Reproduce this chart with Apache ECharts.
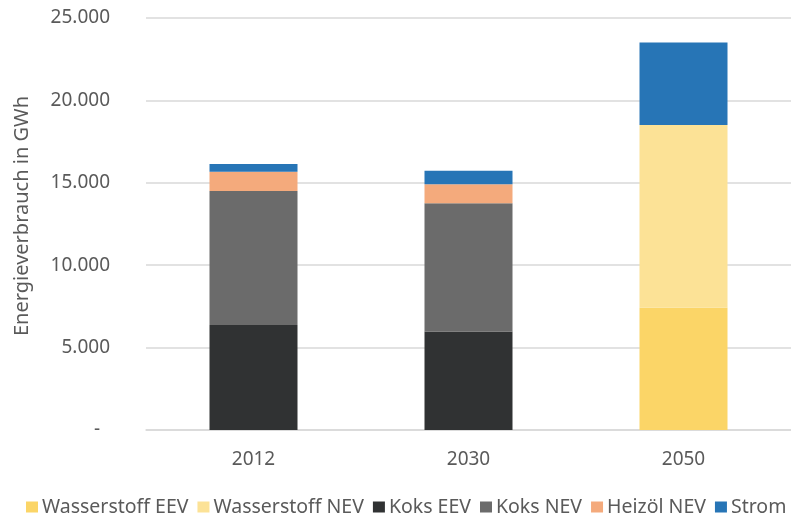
<!DOCTYPE html>
<html><head><meta charset="utf-8">
<script src="https://cdn.jsdelivr.net/npm/echarts@6/dist/echarts.min.js"></script>
<style>html,body{margin:0;padding:0;background:#fff}#c{width:791px;height:515px}</style>
</head><body><div id="c"></div>
<script>
const categories = ['2012', '2030', '2050'];
const seriesNames = ['Wasserstoff EEV', 'Wasserstoff NEV', 'Koks EEV', 'Koks NEV', 'Heizöl NEV', 'Strom'];
const wasserstoffEEV = [0, 0, 7420];
const wasserstoffNEV = [0, 0, 11090];
const koksEEV = [6370, 5970, 0];
const koksNEV = [8130, 7790, 0];
const heizoelNEV = [1170, 1150, 0];
const strom = [470, 825, 5000];
const yTicks = [0, 5000, 10000, 15000, 20000, 25000];
const colors = ['#FBD567', '#FCE296', '#303233', '#6B6B6B', '#F4AA7C', '#2775B6'];

const allData = [wasserstoffEEV, wasserstoffNEV, koksEEV, koksNEV, heizoelNEV, strom];
const font = 'Noto Sans';
const txt = '#5A5A5A';
const chart = echarts.init(document.getElementById('c'));
chart.setOption({
  animation: false,
  color: colors,
  grid: { left: 146, right: -10, top: 18, bottom: 85 },
  legend: {
    top: 496, left: 26, itemWidth: 12, itemHeight: 11, itemGap: 9,
    icon: 'rect', padding: 0,
    textStyle: { color: txt, fontSize: 19.5, lineHeight: 22, fontFamily: font, padding: [0, 0, 0, -1] },
    data: seriesNames
  },
  xAxis: {
    type: 'category', data: categories,
    axisLine: { lineStyle: { color: '#D9D9D9', width: 1.5 } },
    axisTick: { show: false },
    axisLabel: { color: txt, fontSize: 19, fontFamily: font, margin: 20 }
  },
  yAxis: {
    type: 'value', min: yTicks[0], max: yTicks[yTicks.length - 1], interval: 5000,
    name: 'Energieverbrauch in GWh', nameLocation: 'middle', nameGap: 114,
    nameTextStyle: { color: txt, fontSize: 20, fontFamily: font, padding: [0, 0, 0, 16] },
    axisLine: { show: false }, axisTick: { show: false },
    splitLine: { lineStyle: { color: '#D9D9D9', width: 1.5 } },
    axisLabel: {
      color: txt, fontSize: 19, fontFamily: font, margin: 36,
      formatter: v => v === 0 ? '-  ' : (v / 1000).toFixed(0) + '.000'
    }
  },
  series: seriesNames.map((n, i) => ({
    name: n, type: 'bar', stack: 'total', barWidth: 88,
    data: allData[i].map(v => v === 0 ? null : v)
  }))
});
</script></body></html>
